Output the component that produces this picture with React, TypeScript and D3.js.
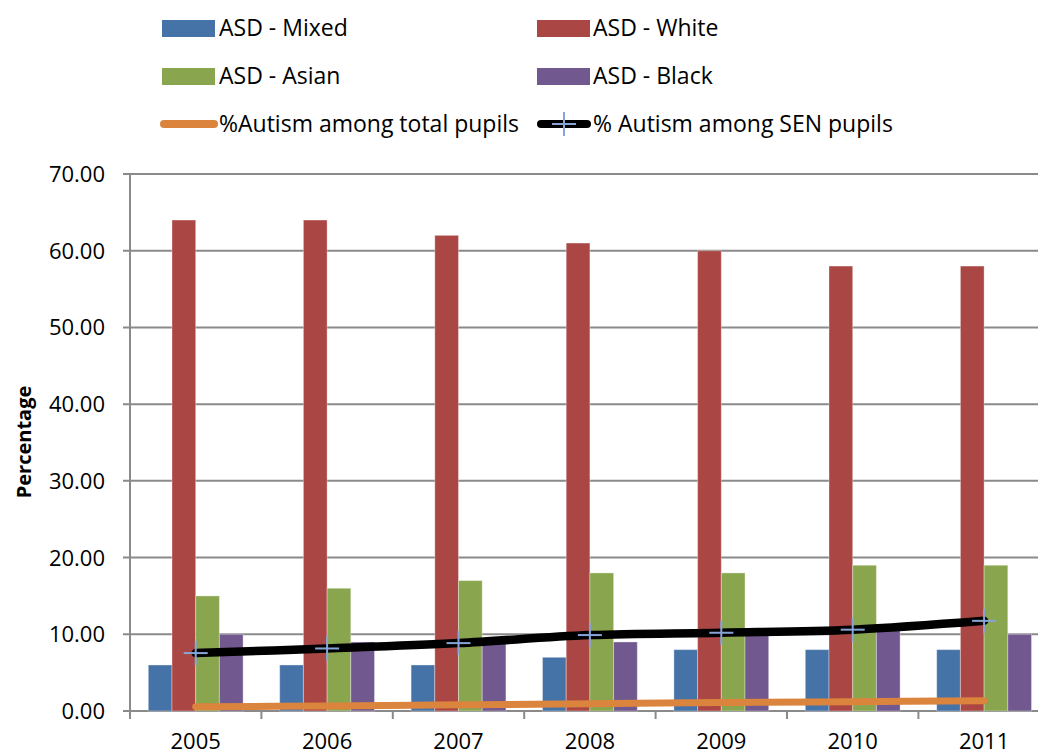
import React from "react";
import * as d3 from "d3";

const years = ["2005", "2006", "2007", "2008", "2009", "2010", "2011"];
const seriesNames = ["ASD - Mixed", "ASD - White", "ASD - Asian", "ASD - Black"];
const mixed = [6, 6, 6, 7, 8, 8, 8];
const white = [64, 64, 62, 61, 60, 58, 58];
const asian = [15, 16, 17, 18, 18, 19, 19];
const black = [10, 9, 9, 9, 10, 10.5, 10];
const totalPupils = [0.56, 0.65, 0.8, 0.95, 1.1, 1.22, 1.34];
const senPupils = [7.55, 8.15, 8.85, 9.9, 10.2, 10.6, 11.75];
const yTicks = [0, 10, 20, 30, 40, 50, 60, 70];
const lineNames = ["%Autism among total pupils", "% Autism among SEN pupils"];

const barColors = ["#4572A7", "#AA4643", "#89A54E", "#71588F"];
const orange = "#DB843D";
const markerColor = "#86A5D6";
const grid = "#8A8A8A";
const font = "'Open Sans', sans-serif";

export default function App() {
  const W = 1038, H = 754;
  const left = 130, top = 174, bottom = 711;
  const step = 131.4;
  const x = d3.scaleBand<string>().domain(years).range([left, left + step * years.length]).padding(0);
  const xi = d3.scaleBand<string>().domain(seriesNames).range([0, x.bandwidth()]).paddingInner(0).paddingOuter(0.772);
  const y = d3.scaleLinear().domain([0, 70]).range([bottom, top]);
  const values = [mixed, white, asian, black];
  const cx = (yr: string) => (x(yr) as number) + x.bandwidth() / 2;
  const line = d3.line<number>().x((_, i) => cx(years[i])).y((v) => y(v)).curve(d3.curveCatmullRom.alpha(0));
  const plus = (px: number, py: number, key: string) => (
    <g key={key} stroke={markerColor} strokeWidth={2}>
      <line x1={px - 12} x2={px + 12} y1={py} y2={py} />
      <line x1={px} x2={px} y1={py - 12} y2={py + 12} />
    </g>
  );
  const legendBars = [
    { name: seriesNames[0], color: barColors[0], sx: 162, tx: 219, cy: 28, by: 36 },
    { name: seriesNames[1], color: barColors[1], sx: 537, tx: 593, cy: 28, by: 36 },
    { name: seriesNames[2], color: barColors[2], sx: 162, tx: 219, cy: 76, by: 84 },
    { name: seriesNames[3], color: barColors[3], sx: 537, tx: 593, cy: 76, by: 84 },
  ];
  return (
    <svg width={W} height={H} style={{ position: "absolute", left: 0, top: 0, background: "#fff" }} fontFamily={font}>
      {/* gridlines */}
      {yTicks.map((t) => (
        <line key={"g" + t} x1={left - 7} x2={W} y1={y(t)} y2={y(t)} stroke={grid} strokeWidth={2} />
      ))}
      {/* y axis */}
      <line x1={left} x2={left} y1={top} y2={bottom} stroke={grid} strokeWidth={2} />
      {/* x ticks */}
      {years.map((yr) => (
        <line key={"xt" + yr} x1={x(yr) as number} x2={x(yr) as number} y1={bottom} y2={bottom + 8} stroke={grid} strokeWidth={2} />
      ))}
      {/* bars */}
      {years.map((yr, i) =>
        seriesNames.map((s, k) => (
          <rect
            key={yr + s}
            x={(x(yr) as number) + (xi(s) as number)}
            y={y(values[k][i])}
            width={xi.bandwidth()}
            height={bottom - y(values[k][i])}
            fill={barColors[k]}
            stroke="rgba(255,255,255,0.35)"
            strokeWidth={1}
          />
        ))
      )}
      {/* y tick labels */}
      {yTicks.map((t) => (
        <text key={"yl" + t} x={105} y={y(t) + 8} textAnchor="end" fontSize={22} fill="#000">
          {t.toFixed(2)}
        </text>
      ))}
      {/* x labels */}
      {years.map((yr) => (
        <text key={"xl" + yr} x={cx(yr)} y={749} textAnchor="middle" fontSize={22} fill="#000">
          {yr}
        </text>
      ))}
      {/* y title */}
      <text transform={`translate(31,442) rotate(-90)`} textAnchor="middle" fontSize={20} fontWeight="bold" fill="#000">
        Percentage
      </text>
      {/* lines */}
      <path d={line(totalPupils) || ""} fill="none" stroke={orange} strokeWidth={7} strokeLinecap="round" />
      <path d={line(senPupils) || ""} fill="none" stroke="#000" strokeWidth={8.5} strokeLinecap="round" />
      {senPupils.map((v, i) => plus(cx(years[i]), y(v), "m" + i))}
      {/* legend */}
      {legendBars.map((l) => (
        <g key={l.name}>
          <rect x={l.sx} y={l.cy - 8} width={53} height={17} fill={l.color} />
          <text x={l.tx} y={l.by} fontSize={23} fill="#000">{l.name}</text>
        </g>
      ))}
      <line x1={164} x2={214} y1={124} y2={124} stroke={orange} strokeWidth={8} strokeLinecap="round" />
      <text x={219} y={132} fontSize={23} fill="#000">{lineNames[0]}</text>
      <line x1={541} x2={587} y1={124} y2={124} stroke="#000" strokeWidth={8} strokeLinecap="round" />
      {plus(564, 124, "lm")}
      <text x={593} y={132} fontSize={23} fill="#000">{lineNames[1]}</text>
    </svg>
  );
}
